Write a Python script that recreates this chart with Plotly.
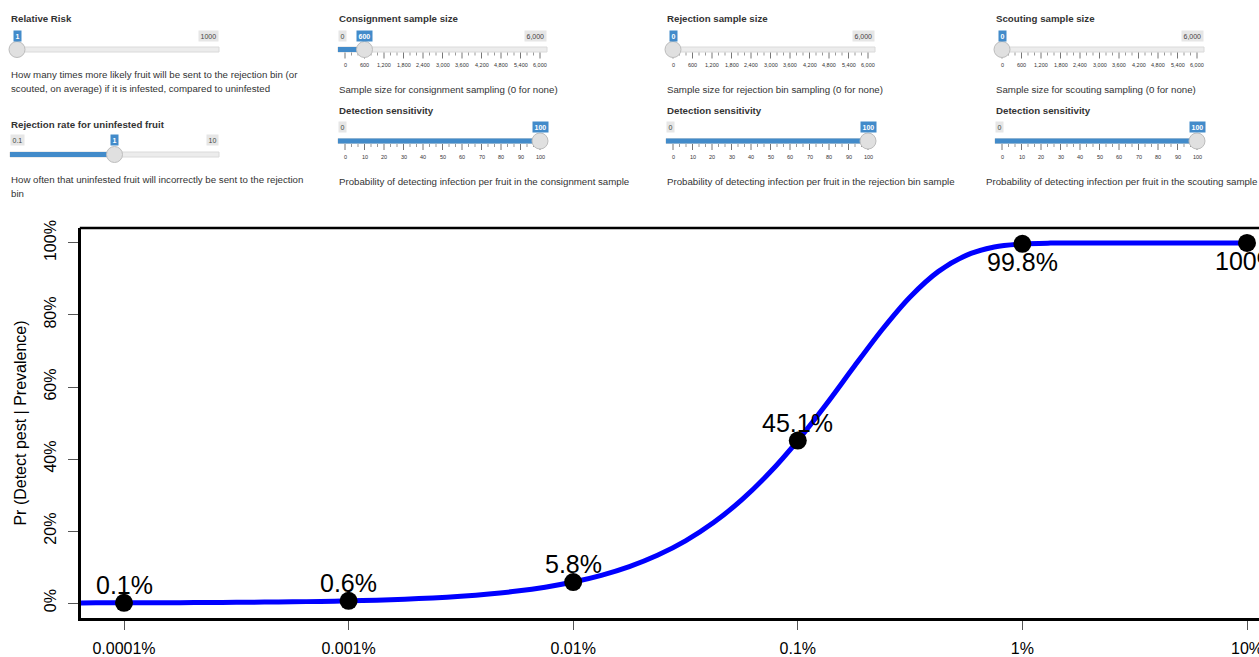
import math
import plotly.graph_objects as go

# ---------------- data ----------------
prev_tick_vals = [1e-6, 1e-5, 1e-4, 1e-3, 1e-2, 1e-1]
prev_tick_text = ["0.0001%", "0.001%", "0.01%", "0.1%", "1%", "10%"]

point_prob = [0.0006, 0.006, 0.0582, 0.4512, 0.9976, 1.0]
point_labels = ["0.1%", "0.6%", "5.8%", "45.1%", "99.8%", "100%"]

curve_log_prev = [-6.25, -6.125, -6.0, -5.875, -5.75, -5.625, -5.5, -5.375, -5.25, -5.125,
                  -5.0, -4.875, -4.75, -4.625, -4.5, -4.375, -4.25, -4.125,
                  -4.0, -3.875, -3.75, -3.625, -3.5, -3.375, -3.25, -3.125,
                  -3.0, -2.875, -2.75, -2.625, -2.5, -2.375, -2.25, -2.125,
                  -2.0, -1.875, -1.75, -1.625, -1.5, -1.375, -1.25, -1.125, -1.0]
curve_prob = [0.00034, 0.00045, 0.0006, 0.0008, 0.00107, 0.00142, 0.0019, 0.00253, 0.00337, 0.00449,
              0.00598, 0.00797, 0.01061, 0.01413, 0.0188, 0.02499, 0.03318, 0.044,
              0.0582, 0.0769, 0.1012, 0.1326, 0.1728, 0.2236, 0.2864, 0.3623,
              0.4512, 0.5507, 0.656, 0.759, 0.85, 0.9204, 0.9657, 0.9889,
              0.9975, 0.9997, 1.0, 1.0, 1.0, 1.0, 1.0, 1.0, 1.0]

y_tick_vals = [0, 0.2, 0.4, 0.6, 0.8, 1.0]

# slider panel content
slider_titles = ["Relative Risk", "Rejection rate for uninfested fruit",
                 "Consignment sample size", "Detection sensitivity",
                 "Rejection sample size", "Detection sensitivity",
                 "Scouting sample size", "Detection sensitivity"]
slider_value_text = ["1", "1", "600", "100", "0", "100", "0", "100"]
slider_value_frac = [0.0, 0.5, 0.1, 1.0, 0.0, 1.0, 0.0, 1.0]
slider_min_text = ["1", "0.1", "0", "0", "0", "0", "0", "0"]
slider_max_text = ["1000", "10", "6,000", "100", "6,000", "100", "6,000", "100"]
slider_grid = [None, None, "size", "sens", "size", "sens", "size", "sens"]
size_grid_labels = ["0", "600", "1,200", "1,800", "2,400", "3,000", "3,600", "4,200", "4,800", "5,400", "6,000"]
sens_grid_labels = ["0", "10", "20", "30", "40", "50", "60", "70", "80", "90", "100"]
slider_desc = [
    ["How many times more likely fruit will be sent to the rejection bin (or",
     "scouted, on average) if it is infested, compared to uninfested"],
    ["How often that uninfested fruit will incorrectly be sent to the rejection", "bin"],
    ["Sample size for consignment sampling (0 for none)"],
    ["Probability of detecting infection per fruit in the consignment sample"],
    ["Sample size for rejection bin sampling (0 for none)"],
    ["Probability of detecting infection per fruit in the rejection bin sample"],
    ["Sample size for scouting sampling (0 for none)"],
    ["Probability of detecting infection per fruit in the scouting sample"],
]

# ---------------- layout geometry ----------------
W, H = 1259, 657
ML, MR, MT, MB = 81, 0, 228, 39
PW, PH = W - ML - MR, H - MT - MB
FONT = "Liberation Sans, Arial, Helvetica, sans-serif"

def X(px):
    return (px - ML) / PW

def Y(py):
    return (H - MB - py) / PH

shapes = []
annotations = []

def txt(px, py, s, size, color="#333", anchor="left", bg=None, pad=1, yanchor="middle"):
    a = dict(xref="paper", yref="paper", x=X(px), y=Y(py), text=s, showarrow=False,
             xanchor=anchor, yanchor=yanchor, borderpad=pad,
             font=dict(family=FONT, size=size, color=color))
    if bg:
        a["bgcolor"] = bg
    annotations.append(a)

def rect(x0, y0, x1, y1, fill, line=None, lw=0):
    shapes.append(dict(type="rect", xref="paper", yref="paper",
                       x0=X(x0), x1=X(x1), y0=Y(y1), y1=Y(y0),
                       fillcolor=fill, line=dict(color=line or fill, width=lw), layer="above"))

def seg(x0, y0, x1, y1, color, w=1):
    shapes.append(dict(type="line", xref="paper", yref="paper",
                       x0=X(x0), x1=X(x1), y0=Y(y0), y1=Y(y1),
                       line=dict(color=color, width=w), layer="above"))

def circ(cx, cy, r, fill, line):
    shapes.append(dict(type="circle", xref="paper", yref="paper",
                       x0=X(cx - r), x1=X(cx + r), y0=Y(cy + r), y1=Y(cy - r),
                       fillcolor=fill, line=dict(color=line, width=1), layer="above"))

TRACK_W = 209
INSET = 7
BLUE = "#428bca"
col_x = [10, 10, 338, 338, 666, 666, 995, 995]
track_y = [49.5, 154.5, 49.5, 141, 49.5, 141, 49.5, 141]

for i in range(8):
    x0 = col_x[i]
    ty = track_y[i]
    x1 = x0 + TRACK_W
    vx = x0 + INSET + slider_value_frac[i] * (TRACK_W - 2 * INSET)
    # title
    txt(x0 - 1, ty - 30.5, "<b>" + slider_titles[i] + "</b>", 9.7, "#333")
    # track
    rect(x0, ty - 2.5, x1, ty + 2.5, "#ececec", "#dadada", 1)
    if vx > x0 + INSET:
        rect(x0, ty - 2.5, vx, ty + 2.5, BLUE, BLUE, 0)
    # grid
    grid = slider_grid[i]
    if grid:
        labels = size_grid_labels if grid == "size" else sens_grid_labels
        n = len(labels) - 1
        step = (TRACK_W - 2 * INSET) / n
        for k, lab in enumerate(labels):
            gx = x0 + INSET + k * step
            seg(gx, ty + 3, gx, ty + 9, "#777", 1)
            if k > 0:
                for s in (1, 2):
                    sx = gx - step * s / 3
                    seg(sx, ty + 3, sx, ty + 6, "#999", 1)
            txt(gx, ty + 15.5, lab, 5.5, "#333", anchor="center")
    # handle
    circ(vx, ty, 8, "#e0e0e0", "#bdbdbd")
    # min / max labels
    badge_w = 5 + 4 * len(slider_value_text[i])
    min_w = 5 + 4 * len(slider_min_text[i])
    max_w = 5 + 4 * len(slider_max_text[i])
    if x0 + min_w < vx - badge_w / 2 - 1:
        txt(x0, ty - 14, slider_min_text[i], 7, "#444", anchor="left", bg="#e6e6e6", pad=1.5)
    if x1 - max_w > vx + badge_w / 2 + 1:
        txt(x1, ty - 14, slider_max_text[i], 7, "#444", anchor="right", bg="#e6e6e6", pad=1.5)
    txt(vx, ty - 14, "<b>" + slider_value_text[i] + "</b>", 7, "white", anchor="center", bg=BLUE, pad=1.5)
    # descriptions
    d0 = ty + (40 if grid else 25)
    dx = x0 - 1 if i != 7 else 984
    for j, line in enumerate(slider_desc[i]):
        txt(dx, d0 + 14 * j, line, 9.7, "#333")

# ---------------- plot ----------------
fig = go.Figure()
fig.add_trace(go.Scatter(
    x=[10 ** e for e in curve_log_prev], y=curve_prob, mode="lines",
    line=dict(color="#0000ff", width=5, shape="spline", smoothing=0.8),
    hoverinfo="skip", showlegend=False))
fig.add_trace(go.Scatter(
    x=prev_tick_vals, y=point_prob, mode="markers",
    marker=dict(color="black", size=18), showlegend=False))

for xv, yv, lab in zip(prev_tick_vals, point_prob, point_labels):
    annotations.append(dict(
        x=math.log10(xv), y=yv, xref="x", yref="y", text=lab, showarrow=False,
        xanchor="center", yanchor="middle", yshift=(18 if yv < 0.5 else -18),
        font=dict(family=FONT, size=25, color="black")))

# top frame line of the box
shapes.append(dict(type="line", xref="paper", yref="paper", x0=-0.001, x1=1.05, y0=1, y1=1,
                   line=dict(color="black", width=2.5), layer="above"))

x_left = -6.0 - 43 / 224.6
x_right = x_left + PW / 224.6

fig.update_layout(
    width=W, height=H,
    margin=dict(l=ML, r=MR, t=MT, b=MB, pad=0, autoexpand=False),
    paper_bgcolor="white", plot_bgcolor="white",
    font=dict(family=FONT, color="black"),
    shapes=shapes, annotations=annotations,
    xaxis=dict(type="log", range=[x_left, x_right], tickvals=prev_tick_vals, ticktext=prev_tick_text,
               automargin=False,
               showgrid=False, zeroline=False, showline=True, linecolor="black", linewidth=2.5,
               ticks="outside", ticklen=9, tickcolor="#555", tickwidth=1,
               ticklabeloverflow="allow",
               tickfont=dict(family=FONT, size=16, color="black"), ticklabelstandoff=5),
    yaxis=dict(range=[-0.0416, 1.0416], tickvals=y_tick_vals, tickformat=".0%",
               automargin=False,
               showgrid=False, zeroline=False, showline=True, linecolor="black", linewidth=2.5,
               ticks="outside", ticklen=10, tickcolor="#555", tickwidth=1, tickangle=-90,
               ticklabelstandoff=6,
               tickfont=dict(family=FONT, size=16, color="black"),
               title=dict(text="Pr (Detect pest | Prevalence)", font=dict(family=FONT, size=16, color="black"),
                          standoff=12)),
)

clip_js = ("var s=document.querySelectorAll('.main-svg');"
           "for(var i=0;i<s.length;i++){s[i].style.overflow='hidden';}"
           "document.documentElement.style.overflow='hidden';"
           "document.body.style.overflow='hidden';document.body.style.margin='0';")

fig.write_html("out.html", config={"displayModeBar": False}, post_script=clip_js)
